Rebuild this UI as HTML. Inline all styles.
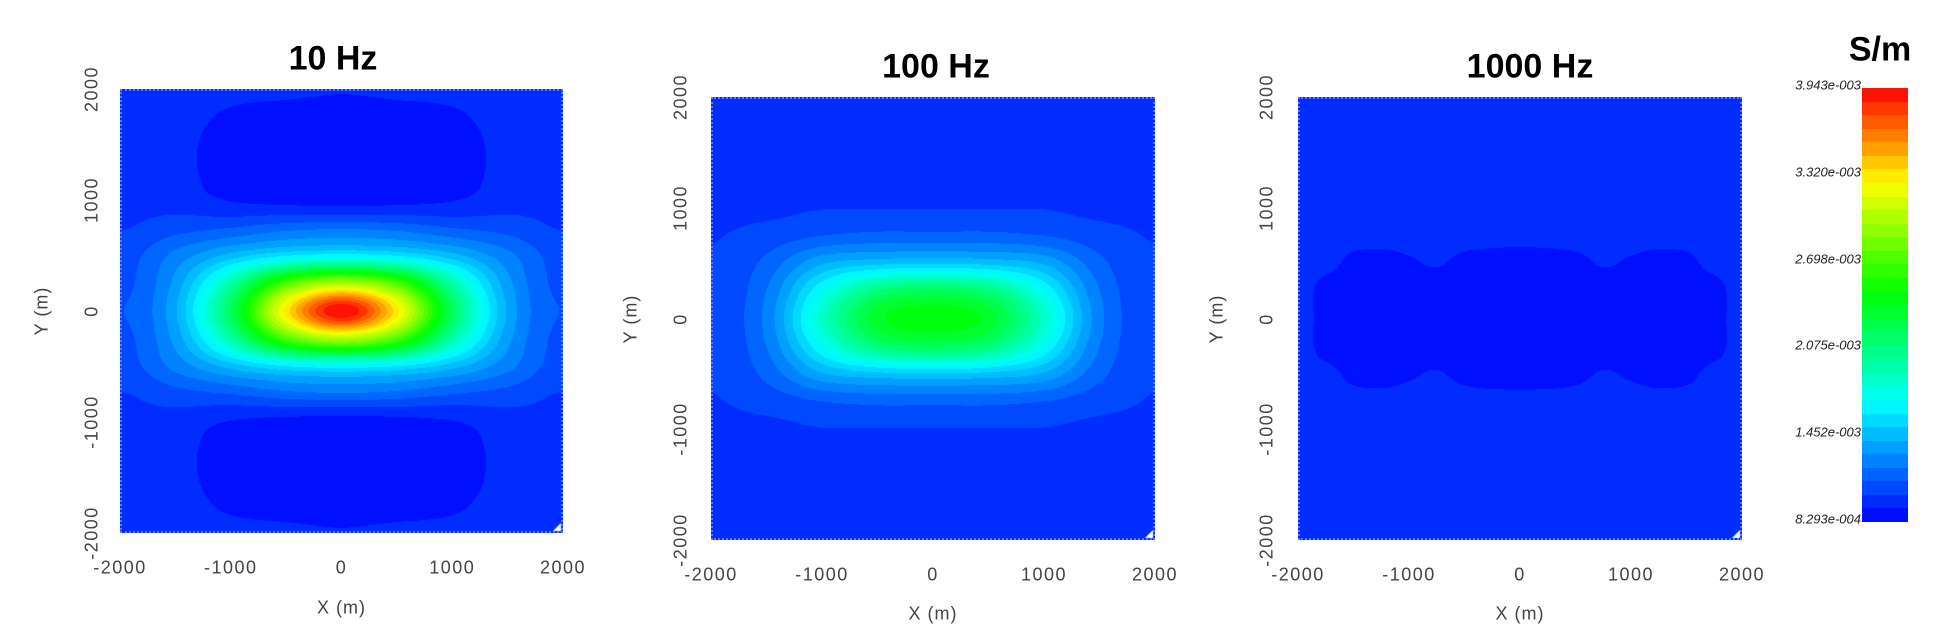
<!DOCTYPE html>
<html><head><meta charset="utf-8">
<style>
html,body{margin:0;padding:0;background:#fff;}
#root{position:relative;width:1958px;height:640px;overflow:hidden;font-family:"Liberation Sans",sans-serif;}
.title{position:absolute;font-weight:bold;font-size:34px;color:#000;transform:translate(-50%,-50%);white-space:nowrap;}
.plot{position:absolute;}
.plot canvas{position:absolute;left:0;top:0;}
.frame{position:absolute;left:0;top:0;right:0;bottom:0;border:2px dotted #5a78ff;box-sizing:border-box;}
.tick{position:absolute;font-size:18px;letter-spacing:1.5px;color:#444;white-space:nowrap;transform:translate(-50%,-50%);}
.ytick{transform:translate(-50%,-50%) rotate(-90deg);}
.alab{position:absolute;font-size:18px;letter-spacing:1px;color:#444;white-space:nowrap;transform:translate(-50%,-50%);}
.cbl{position:absolute;font-size:13px;font-style:italic;color:#222;white-space:nowrap;transform:translate(-100%,-50%);}
</style></head>
<body><div id="root">
<div class="title" style="left:1880px;top:50px;">S/m</div>
<canvas id="cbar" width="46" height="434" style="position:absolute;left:1862px;top:88px;"></canvas>
</div>
<script>
// value range of the colour scale (×1e-3 S/m)
const vMin = 0.8293, vMax = 3.943;
const cbTicks = ["3.943e-003","3.320e-003","2.698e-003","2.075e-003","1.452e-003","8.293e-004"];
const cbTickVals = [3.943,3.320,2.698,2.075,1.452,0.8293];
const xTicks = [-2000,-1000,0,1000,2000];
const yTicks = [-2000,-1000,0,1000,2000];
const titles = ["10 Hz","100 Hz","1000 Hz"];
// quadrant grids (rows y=0..2000 step 250, cols x=0..2000), values ×1e-3 S/m, mirrored to other quadrants
const grid10 = [
 [3.94,3.30,2.20,1.40,1.12],
 [3.00,2.70,1.95,1.35,1.10],
 [1.65,1.60,1.45,1.25,1.08],
 [1.20,1.18,1.12,1.08,1.02],
 [0.88,0.89,0.92,0.98,1.00],
 [0.85,0.86,0.88,0.96,1.00],
 [0.85,0.86,0.88,0.96,1.00],
 [0.88,0.89,0.91,0.97,1.00],
 [0.93,0.94,0.95,0.99,1.00]];
const grid100 = [
 [2.45,2.35,1.85,1.25,1.05],
 [2.20,2.10,1.70,1.22,1.04],
 [1.50,1.48,1.40,1.15,1.03],
 [1.15,1.15,1.12,1.06,1.02],
 [1.02,1.02,1.02,1.00,1.00],
 [0.99,0.99,0.99,0.99,0.99],
 [0.99,0.99,0.99,0.99,0.99],
 [0.99,0.99,0.99,0.99,0.99],
 [0.99,0.99,0.99,0.99,0.99]];
const grid1000 = [
 [0.87,0.87,0.87,0.87,0.87,0.87,0.87,0.87,0.99],
 [0.87,0.87,0.87,0.87,0.87,0.87,0.87,0.87,0.99],
 [0.87,0.871,0.895,0.935,0.911,0.879,0.895,0.967,0.99],
 [0.967,0.97,0.97,0.97,0.97,0.97,0.97,0.97,0.98],
 [0.97,0.97,0.97,0.97,0.97,0.97,0.97,0.97,0.97],
 [0.97,0.97,0.97,0.97,0.97,0.97,0.97,0.97,0.97],
 [0.97,0.97,0.97,0.97,0.97,0.97,0.97,0.97,0.97],
 [0.97,0.97,0.97,0.97,0.97,0.97,0.97,0.97,0.97],
 [0.97,0.97,0.97,0.97,0.97,0.97,0.97,0.97,0.97]];
const grids = [grid10, grid100, grid1000];

const layouts = [
 {l:120,t:89,w:443,h:444,tx:333,ty:59,xty:568,xly:608,yt:28,yl:78},
 {l:711,t:97,w:444,h:443,tx:936,ty:67,xty:575,xly:614,yt:30,yl:80},
 {l:1298,t:97,w:444,h:443,tx:1530,ty:67,xty:575,xly:614,yt:31,yl:81}];

const NB = 32;
function jet(f){
  f = Math.max(0,Math.min(1,f));
  f = (Math.min(NB-1,Math.floor(f*NB))+0.5)/NB;
  const s=[[0,0,0,255],[0.274,0,255,255],[0.53,0,255,0],[0.78,255,255,0],[1,255,0,0]];
  for(let i=1;i<s.length;i++){ if(f<=s[i][0]){ const a=s[i-1],b=s[i],u=(f-a[0])/(b[0]-a[0]);
    return [a[1]+(b[1]-a[1])*u,a[2]+(b[2]-a[2])*u,a[3]+(b[3]-a[3])*u]; } }
  return [255,0,0];
}
function cr(p0,p1,p2,p3,t){return 0.5*((2*p1)+(-p0+p2)*t+(2*p0-5*p1+4*p2-p3)*t*t+(-p0+3*p1-3*p2+p3)*t*t*t);}
function sample(g, ax, ay){
  const nr=g.length, nc=g[0].length;
  const gx = ax/2000*(nc-1), gy = ay/2000*(nr-1);
  const ix=Math.floor(gx), iy=Math.floor(gy), tx=gx-ix, ty=gy-iy;
  const cl=(i,n)=>{ if(i<0) return -i; if(i>n-1) return 2*(n-1)-i; return i; };
  const rows=[];
  for(let j=-1;j<=2;j++){ const r=g[cl(iy+j,nr)];
    rows.push(cr(r[cl(ix-1,nc)],r[cl(ix,nc)],r[cl(ix+1,nc)],r[cl(ix+2,nc)],tx)); }
  return cr(rows[0],rows[1],rows[2],rows[3],ty);
}
const root=document.getElementById('root');
layouts.forEach((L,p)=>{
  const t=document.createElement('div'); t.className='title'; t.textContent=titles[p];
  
  
  t.style.left=L.tx+'px'; t.style.top=L.ty+'px'; root.appendChild(t);
  const pl=document.createElement('div'); pl.className='plot';
  
  
  pl.style.cssText=`left:${L.l}px;top:${L.t}px;width:${L.w}px;height:${L.h}px;`;
  const cv=document.createElement('canvas'); cv.width=L.w; cv.height=L.h;
  
  
  const ctx=cv.getContext('2d'); const im=ctx.createImageData(L.w,L.h);
  const g=grids[p];
  const xs=v=>(v+2000)/4000*L.w, ys=v=>(2000-v)/4000*L.h;
  for(let py=0;py<L.h;py++){ const Y=2000-(py+0.5)/L.h*4000;
    for(let px=0;px<L.w;px++){ const X=-2000+(px+0.5)/L.w*4000;
      const v=sample(g,Math.abs(X),Math.abs(Y));
      const c=jet((v-vMin)/(vMax-vMin)); const k=(py*L.w+px)*4;
      im.data[k]=c[0];im.data[k+1]=c[1];im.data[k+2]=c[2];im.data[k+3]=255; } }
  ctx.putImageData(im,0,0);
  ctx.fillStyle='#fff'; ctx.beginPath(); ctx.moveTo(L.w-2,L.h-2); ctx.lineTo(L.w-10,L.h-2); ctx.lineTo(L.w-2,L.h-10); ctx.closePath(); ctx.fill();
  pl.appendChild(cv);
  const fr=document.createElement('div'); fr.className='frame';
  
  
  pl.appendChild(fr); root.appendChild(pl);
  xTicks.forEach(v=>{ const d=document.createElement('div'); d.className='tick'; d.textContent=v;
    
    
    d.style.left=(L.l+xs(v))+'px'; d.style.top=L.xty+'px'; root.appendChild(d); });
  yTicks.forEach(v=>{ const d=document.createElement('div'); d.className='tick ytick'; d.textContent=v;
    
    
    d.style.left=(L.l-L.yt)+'px'; d.style.top=(L.t+ys(v))+'px'; root.appendChild(d); });
  const xl=document.createElement('div'); xl.className='alab'; xl.textContent='X (m)';
  
  
  xl.style.left=(L.l+L.w/2)+'px'; xl.style.top=L.xly+'px'; root.appendChild(xl);
  const yl=document.createElement('div'); yl.className='alab'; yl.textContent='Y (m)';
  
  
  yl.style.left=(L.l-L.yl)+'px'; yl.style.top=(L.t+L.h/2)+'px'; yl.style.transform='translate(-50%,-50%) rotate(-90deg)'; root.appendChild(yl);
});
const cb=document.getElementById('cbar'), cctx=cb.getContext('2d');
for(let y=0;y<cb.height;y++){ const c=jet(1-(y+0.5)/cb.height);
  cctx.fillStyle=`rgb(${c[0]|0},${c[1]|0},${c[2]|0})`; cctx.fillRect(0,y,cb.width,1); }
cbTicks.forEach((s,i)=>{ const d=document.createElement('div'); d.className='cbl'; d.textContent=s;
  
  
  const y=88+(vMax-cbTickVals[i])/(vMax-vMin)*434;
  d.style.left='1861px'; d.style.top=(y-3)+'px'; root.appendChild(d); });
</script>
</body></html>
